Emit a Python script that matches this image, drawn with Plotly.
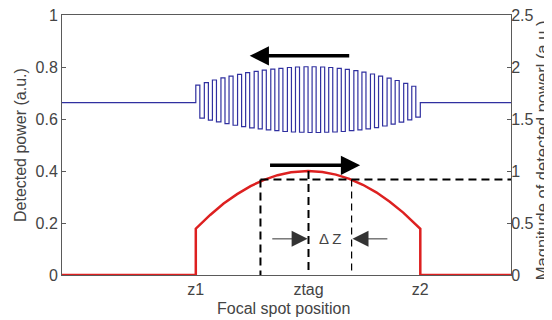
import plotly.graph_objects as go

# positions along the focal axis (0..100 across the plot)
z1, ztag, z2 = 29.8, 54.9, 79.8
x_dash_left, x_dash_right = 44.2, 64.5
y_dash = 0.367

# blue: square-wave edges and per-cycle levels (left axis)
blue_base = 0.663
blue_edges = [29.8, 30.7, 31.7, 32.6, 33.5, 34.4, 35.4, 36.3, 37.2, 38.1,
              39.1, 40.0, 40.9, 41.8, 42.8, 43.7, 44.6, 45.5, 46.5, 47.4,
              48.3, 49.2, 50.2, 51.1, 52.0, 52.9, 53.9, 54.8, 55.7, 56.6,
              57.6, 58.5, 59.4, 60.3, 61.3, 62.2, 63.1, 64.0, 65.0, 65.9,
              66.8, 67.7, 68.7, 69.6, 70.5, 71.4, 72.4, 73.3, 74.2, 75.1,
              76.1, 77.0, 77.9, 78.8, 79.8]
blue_hi = [0.730, 0.740, 0.750, 0.758, 0.765, 0.772, 0.778, 0.783, 0.788,
           0.792, 0.795, 0.798, 0.800, 0.801, 0.801, 0.800, 0.798, 0.795,
           0.791, 0.786, 0.780, 0.773, 0.765, 0.757, 0.748, 0.737, 0.726]
blue_lo = [0.603, 0.596, 0.589, 0.582, 0.576, 0.571, 0.566, 0.562, 0.558,
           0.555, 0.552, 0.550, 0.549, 0.548, 0.548, 0.549, 0.550, 0.552,
           0.555, 0.558, 0.562, 0.567, 0.573, 0.580, 0.588, 0.597, 0.607]

# red: detected power curve between z1 and z2
red_x = [29.8, 33, 36, 39, 42, 45, 48, 51, 54.8, 58, 61, 64, 67, 70, 73, 76, 79.8]
red_y = [0.178, 0.231, 0.275, 0.311, 0.342, 0.366, 0.384, 0.395, 0.400,
         0.396, 0.386, 0.370, 0.347, 0.318, 0.282, 0.240, 0.178]

left_ticks = [0, 0.2, 0.4, 0.6, 0.8, 1]
left_text = ["0", "0.2", "0.4", "0.6", "0.8", "1"]
right_ticks = [0, 0.5, 1, 1.5, 2, 2.5]
right_text = ["0", "0.5", "1", "1.5", "2", "2.5"]

FONT = "Arial, Liberation Sans, sans-serif"
GREY = "#444444"
AX = "#5a5a5a"

levels = []
for hi, lo in zip(blue_hi, blue_lo):
    levels += [hi, lo]
bx = [0] + blue_edges + [100]
by = [blue_base] + levels + [blue_base, blue_base]

rx = [0, z1] + red_x + [z2, 100]
ry = [0, 0] + red_y + [0, 0]

fig = go.Figure()
fig.add_trace(go.Scatter(x=bx, y=by, mode="lines", line_shape="hv",
                         line=dict(color="#3030a0", width=1.2), showlegend=False))
fig.add_trace(go.Scatter(x=rx, y=ry, mode="lines",
                         line=dict(color="#dd2020", width=2.5), showlegend=False))

dash = dict(color="black", width=2, dash="8px,5px")
fig.add_trace(go.Scatter(x=[x_dash_left, 100], y=[y_dash, y_dash], mode="lines",
                         line=dash, showlegend=False))
fig.add_trace(go.Scatter(x=[x_dash_left, x_dash_left], y=[y_dash, 0], mode="lines",
                         line=dash, showlegend=False))
fig.add_trace(go.Scatter(x=[ztag, ztag], y=[0.4, 0], mode="lines",
                         line=dash, showlegend=False))
fig.add_trace(go.Scatter(x=[x_dash_right, x_dash_right], y=[y_dash, 0], mode="lines",
                         line=dict(color="black", width=1.2, dash="7px,5px"), showlegend=False))
# dummy trace so the right axis is drawn
fig.add_trace(go.Scatter(x=[0], y=[0], yaxis="y2", mode="lines",
                         line=dict(width=0), showlegend=False, hoverinfo="skip"))

# bold direction arrows
for tail, tip, yy in [(64.3, 41.8, 0.843), (46.0, 66.4, 0.422)]:
    fig.add_annotation(x=tip, y=yy, ax=tail, ay=yy, xref="x", yref="y",
                       axref="x", ayref="y", showarrow=True, arrowhead=2,
                       arrowsize=1.1, arrowwidth=3.5, arrowcolor="black", text="")
# delta z arrows
for tail, tip in [(46.5, 54.7), (72.8, 64.7)]:
    fig.add_annotation(x=tip, y=0.139, ax=tail, ay=0.139, xref="x", yref="y",
                       axref="x", ayref="y", showarrow=True, arrowhead=2,
                       arrowsize=3.2, arrowwidth=1, arrowcolor="#333333", text="")
fig.add_annotation(x=59.7, y=0.139, xref="x", yref="y", text="Δ Z", showarrow=False,
                   font=dict(family=FONT, size=15, color=GREY))

fig.add_annotation(x=-0.0935, y=0.5, xref="paper", yref="paper", text="Detected power (a.u.)",
                   textangle=-90, showarrow=False, xanchor="center", yanchor="middle",
                   font=dict(family=FONT, size=16, color=GREY))
fig.add_annotation(x=1.069, y=0.48, xref="paper", yref="paper",
                   text="Magnitude of detected powerl (a.u.)", textangle=-90, showarrow=False,
                   xanchor="center", yanchor="middle",
                   font=dict(family=FONT, size=16.5, color=GREY))
fig.add_annotation(x=0.494, y=-0.127, xref="paper", yref="paper", text="Focal spot position",
                   showarrow=False, xanchor="center", yanchor="middle",
                   font=dict(family=FONT, size=16, color=GREY))

# page body has an 8px margin, so the figure is a bit smaller than the window
fig.update_layout(
    width=544, height=312,
    margin=dict(l=54, r=41, t=7, b=45),
    plot_bgcolor="white", paper_bgcolor="white",
    font=dict(family=FONT, size=16, color=GREY),
    xaxis=dict(range=[0, 100], showgrid=False, zeroline=False, showline=True,
               linecolor=AX, linewidth=1, mirror=True, ticks="", automargin=False,
               tickvals=[z1, ztag, z2], ticktext=["z1", "ztag", "z2"]),
    yaxis=dict(range=[0, 1], showgrid=False, zeroline=False, showline=True,
               linecolor=AX, linewidth=1, ticks="inside", ticklen=4, tickcolor=AX,
               automargin=False,
               tickvals=left_ticks, ticktext=left_text, ticklabeloverflow="allow"),
    yaxis2=dict(range=[0, 2.5], overlaying="y", side="right", showgrid=False,
                zeroline=False, showline=True, linecolor=AX, linewidth=1,
                ticks="inside", ticklen=4, tickcolor=AX, ticklabelstandoff=-4,
                automargin=False,
                tickvals=right_ticks, ticktext=right_text, ticklabeloverflow="allow"),
)

fig.write_html("out.html")
